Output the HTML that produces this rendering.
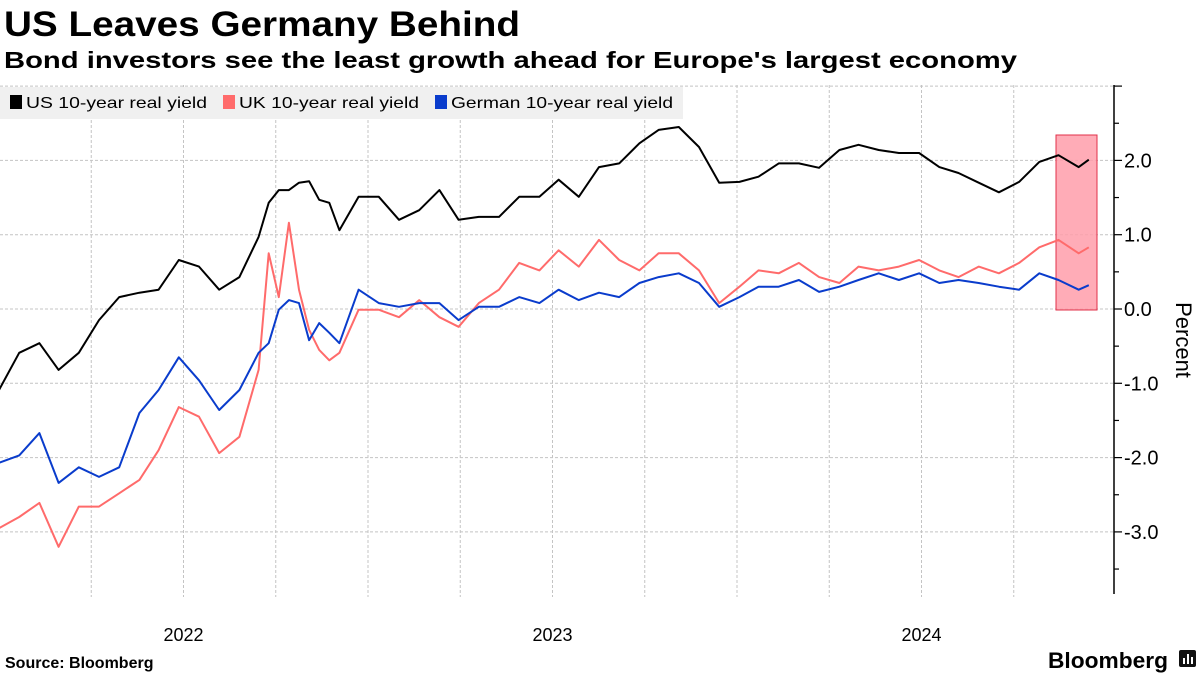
<!DOCTYPE html>
<html><head><meta charset="utf-8"><style>
html,body{margin:0;padding:0;background:#fff;width:1200px;height:675px;overflow:hidden}
svg{display:block}
</style></head><body>
<svg id="chart" width="1200" height="675" viewBox="0 0 1200 675" font-family="'Liberation Sans', sans-serif">
<text x="4" y="36" font-size="35" font-weight="bold" textLength="516" lengthAdjust="spacingAndGlyphs">US Leaves Germany Behind</text>
<text x="4" y="68" font-size="23" font-weight="bold" textLength="1013" lengthAdjust="spacingAndGlyphs">Bond investors see the least growth ahead for Europe's largest economy</text>
<g id="grid"></g>
<rect x="1056" y="135" width="41" height="175" fill="#ff9eaa" fill-opacity="0.85" stroke="#e0304a" stroke-width="1"/>
<g id="series"></g>
<g>
<rect x="0" y="87" width="683" height="32" fill="#f0f0f0"/>
<rect x="10" y="95" width="12" height="14" fill="#000"/>
<text x="26" y="108" font-size="16" textLength="181" lengthAdjust="spacingAndGlyphs">US 10-year real yield</text>
<rect x="223" y="95" width="12" height="14" fill="#ff6b6b"/>
<text x="239" y="108" font-size="16" textLength="180" lengthAdjust="spacingAndGlyphs">UK 10-year real yield</text>
<rect x="435" y="95" width="12" height="14" fill="#0a3ccc"/>
<text x="451" y="108" font-size="16" textLength="222" lengthAdjust="spacingAndGlyphs">German 10-year real yield</text>
</g>
<g id="yaxis"></g>
<text transform="translate(1176,340) rotate(90)" font-size="22" text-anchor="middle">Percent</text>
<g id="xaxis"></g>
<text x="5" y="668" font-size="16" font-weight="bold">Source: Bloomberg</text>
<text x="1048" y="668" font-size="22" font-weight="bold" textLength="120" lengthAdjust="spacingAndGlyphs">Bloomberg</text>
<g><rect x="1179" y="650" width="17" height="17" rx="2" fill="#111"/><rect x="1183" y="658" width="2" height="6" fill="#fff"/><rect x="1187" y="654" width="2" height="10" fill="#fff"/><rect x="1191" y="657" width="2" height="7" fill="#fff"/></g>
</svg>
<script>
// days since 2022-01-01
const days = [0,20,40,59,79,99,119,139,158,178,198,218,238,257,267,277,287,297,307,317,327,337,356,376,396,416,436,455,475,495,515,535,554,574,594,614,634,653,673,693,713,733,752,772,792,812,832,851,871,891,911,931,950,970,990,1010,1030,1049,1069,1079];
const usYield = [-1.09,-0.59,-0.46,-0.82,-0.59,-0.15,0.16,0.22,0.26,0.66,0.57,0.26,0.43,0.97,1.43,1.60,1.60,1.70,1.72,1.47,1.43,1.06,1.51,1.51,1.20,1.33,1.60,1.20,1.24,1.24,1.51,1.51,1.74,1.51,1.91,1.96,2.23,2.41,2.45,2.18,1.70,1.71,1.78,1.96,1.96,1.90,2.14,2.21,2.14,2.10,2.10,1.91,1.83,1.70,1.57,1.71,1.98,2.07,1.91,2.01];
const ukYield = [-2.95,-2.80,-2.61,-3.20,-2.66,-2.66,-2.48,-2.30,-1.90,-1.32,-1.45,-1.94,-1.72,-0.82,0.75,0.16,1.16,0.26,-0.28,-0.55,-0.69,-0.59,-0.01,-0.01,-0.11,0.12,-0.11,-0.24,0.08,0.26,0.62,0.52,0.79,0.57,0.93,0.66,0.52,0.75,0.75,0.52,0.08,0.30,0.52,0.48,0.62,0.43,0.35,0.57,0.52,0.57,0.66,0.52,0.43,0.57,0.48,0.62,0.83,0.93,0.75,0.83];
const deYield = [-2.07,-1.97,-1.67,-2.34,-2.13,-2.26,-2.13,-1.40,-1.09,-0.65,-0.96,-1.36,-1.09,-0.59,-0.46,-0.01,0.12,0.08,-0.42,-0.19,-0.32,-0.46,0.26,0.08,0.03,0.08,0.08,-0.15,0.03,0.03,0.16,0.08,0.26,0.12,0.22,0.16,0.35,0.43,0.48,0.35,0.03,0.16,0.30,0.30,0.39,0.23,0.30,0.39,0.48,0.39,0.48,0.35,0.39,0.35,0.30,0.26,0.48,0.39,0.26,0.32];
const yTicks = [2.0,1.0,0.0,-1.0,-2.0,-3.0];
const yTickLabels = ["2.0","1.0","0.0","-1.0","-2.0","-3.0"];
const yearLabels = ["2022","2023","2024"];

const NS="http://www.w3.org/2000/svg";
const X0=-1, X1=1106, DAYS=1096;
function xScale(d){return X0+(X1-X0)*d/DAYS;}
function yScale(v){return 309-74.3*v;}
function mk(tag,attrs,parent){const e=document.createElementNS(NS,tag);for(const k in attrs)e.setAttribute(k,attrs[k]);parent.appendChild(e);return e;}

const grid=document.getElementById('grid');
for(let q=1;q<12;q++){
  const x=xScale(q*DAYS/12);
  const g=mk('line',{x1:x,x2:x,y1:85,y2:597,stroke:'#c4c4c4','stroke-width':1,'stroke-dasharray':'3,2'},grid);
  
  
}
const hl=[3,2,1,0,-1,-2,-3];
hl.forEach(v=>{
  const y=yScale(v);
  const g=mk('line',{x1:0,x2:1114,y1:y,y2:y,stroke:'#c4c4c4','stroke-width':1,'stroke-dasharray':'3,2'},grid);
  
  
});

const yax=document.getElementById('yaxis');
const axl=mk('line',{x1:1114,x2:1114,y1:85,y2:594,stroke:'#000','stroke-width':1.5},yax);


for(let v=3;v>=-3.5;v-=0.5){
  const y=yScale(v);const major=Math.abs(v-Math.round(v))<0.01;
  const t=mk('line',{x1:1114,x2:major?1122:1119,y1:y,y2:y,stroke:'#000','stroke-width':1.2},yax);
  
  
}
yTicks.forEach((v,i)=>{
  const t=mk('text',{x:1124,y:yScale(v)+7,'font-size':20},yax);
  t.textContent=yTickLabels[i];
  
  
});

const xax=document.getElementById('xaxis');
yearLabels.forEach((lab,i)=>{
  const t=mk('text',{x:xScale((i+0.5)*DAYS/3),y:641,'font-size':18,'text-anchor':'middle'},xax);
  t.textContent=lab;
  
  
});

const ser=document.getElementById('series');
function line(vals,color,name){
  const d=vals.map((v,i)=>(i?'L':'M')+xScale(days[i]).toFixed(1)+','+yScale(v).toFixed(1)).join('');
  const p=mk('path',{d:d,fill:'none',stroke:color,'stroke-width':2,'stroke-linejoin':'round'},ser);
  
  
}
line(ukYield,'#ff6b6b','uk-yield-line');
line(deYield,'#0a3ccc','german-yield-line');
line(usYield,'#000000','us-yield-line');
</script>
</body></html>
